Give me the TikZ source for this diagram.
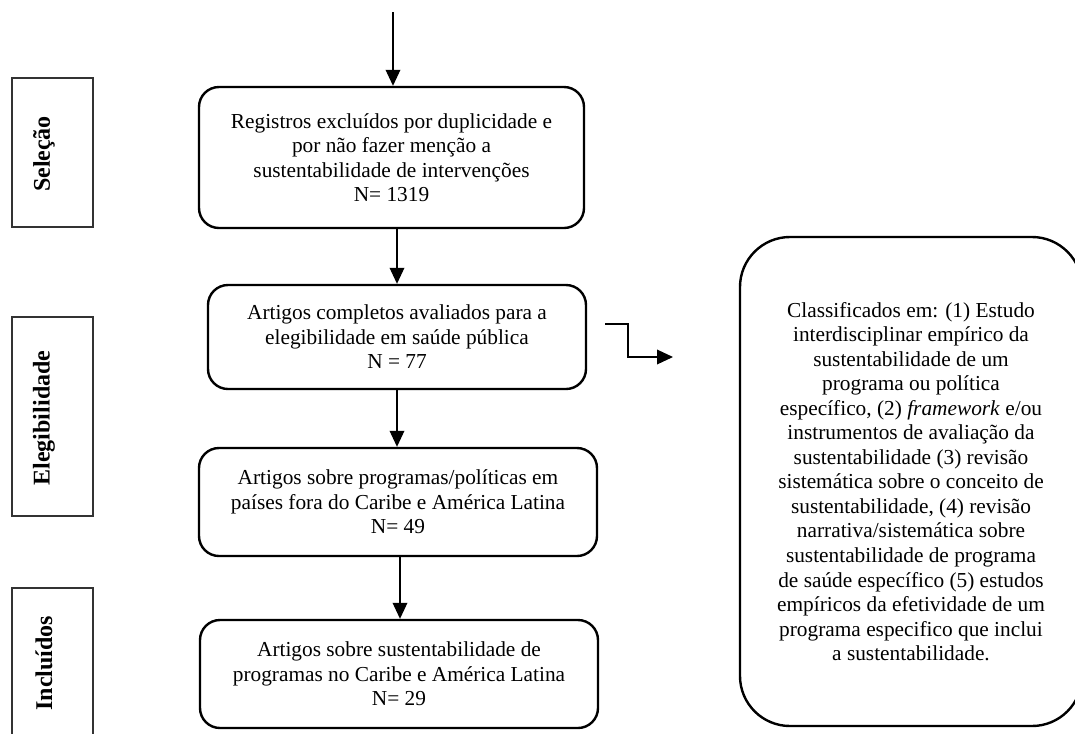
\documentclass[tikz,border=0pt]{standalone}
\usepackage{fontspec}
\setmainfont{Liberation Serif}
\usetikzlibrary{arrows.meta}
\begin{document}
\begin{tikzpicture}[x=0.75pt,y=-0.75pt,
  flowbox/.style={draw, line width=1.8pt, rounded corners=15pt, inner sep=0pt,
    align=center, font=\fontsize{16}{18.4}\selectfont},
  bigbox/.style={draw, line width=1.8pt, rounded corners=37.5pt, inner sep=0pt,
    align=center, font=\fontsize{16}{18.4}\selectfont},
  stagebox/.style={draw=black!80, line width=0.8pt, inner sep=0pt,
    minimum width=60.75pt},
  stagetext/.style={rotate=90, font=\fontsize{18}{20}\selectfont\bfseries, inner sep=0pt},
  arr/.style={line width=1pt, -{Triangle[length=12pt,width=11pt]}}
]
\useasboundingbox (0,0) rectangle (1075,733);
\clip (0,0) rectangle (1075,733);

% stage labels
\node[stagebox, minimum height=111.75pt] (selbox) at (52.5,152.5) {};
\node[stagetext] (seltxt) at (44,154) {Seleção};
\node[stagebox, minimum height=149.25pt] (elbox) at (52.5,416.5) {};
\node[stagetext] (eltxt) at (44,418) {Elegibilidade};
\node[stagebox, minimum height=117.75pt] (inbox) at (52.5,666.5) {};
\node[stagetext] (intxt) at (44,663) {Incluídos};

% flow boxes
\node[flowbox, minimum width=288.75pt, minimum height=105.75pt] (b1) at (391.5,157.5)
  {Registros excluídos por duplicidade e\\ por não fazer menção a\\ sustentabilidade de intervenções\\ N= 1319};
\node[flowbox, minimum width=283.5pt, minimum height=78pt] (b2) at (397,337)
  {Artigos completos avaliados para a\\ elegibilidade em saúde pública\\ N = 77};
\node[flowbox, minimum width=298.5pt, minimum height=81pt] (b3) at (398,502)
  {Artigos sobre programas/políticas em\\ países fora do Caribe e América Latina\\ N= 49};
\node[flowbox, minimum width=298.5pt, minimum height=81pt] (b4) at (399,674)
  {Artigos sobre sustentabilidade de\\ programas no Caribe e América Latina\\ N= 29};

\node[bigbox, minimum width=256.5pt, minimum height=366.75pt] (big) at (911,481.5)
  {Classificados em: (1) Estudo\\ interdisciplinar empírico da\\ sustentabilidade de um\\ programa ou política\\ específico, (2) \textit{framework} e/ou\\ instrumentos de avaliação da\\ sustentabilidade (3) revisão\\ sistemática sobre o conceito de\\ sustentabilidade, (4) revisão\\ narrativa/sistemática sobre\\ sustentabilidade de programa\\ de saúde específico (5) estudos\\ empíricos da efetividade de um\\ programa especifico que inclui\\ a sustentabilidade.};

% connectors
\coordinate (top) at (393,12);
\draw[arr] (top) -- (b1.north -| top);
\draw[arr] (b2.north |- b1.south) -- (b2.north);
\draw[arr] (b2.south) -- (b2.south |- b3.north);
\draw[arr] (400,0 |- b3.south) -- (400,0 |- b4.north);

\coordinate (s0) at (605,324);
\coordinate (s1) at (673,357);
\draw[arr] (s0) -- ++(23,0) |- (s1);
\end{tikzpicture}
\end{document}
